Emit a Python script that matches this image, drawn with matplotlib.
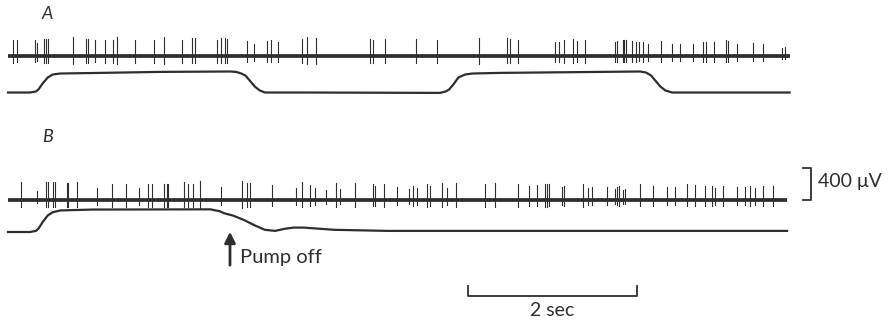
import matplotlib.pyplot as plt
import numpy as np

# Calibracion: 2 s = 169 px, 400 uV = 32 px
PX_PER_S = 84.5
UV_PER_PX = 12.5

# Tiempos de los potenciales (s) y amplitud (uV), registro A
spikes_a_t = [0.06, 0.11, 0.32, 0.34, 0.43, 0.45, 0.47, 0.77, 0.92, 0.95, 1.03, 1.15, 1.24, 1.29,
              1.50, 1.73, 1.85, 2.06, 2.18, 2.21, 2.47, 2.52, 2.57, 2.59, 2.83, 2.91, 3.07, 3.11,
              3.20, 3.48, 3.54, 3.65, 4.28, 4.32, 4.46, 4.83, 5.08, 5.57, 5.91, 5.94, 6.04, 6.47,
              6.52, 6.58, 6.69, 6.73, 6.83, 7.18, 7.21, 7.28, 7.29, 7.31, 7.39, 7.43, 7.47, 7.52,
              7.57, 7.73, 7.86, 7.95, 8.11, 8.23, 8.26, 8.36, 8.50, 8.52, 8.63, 8.82, 8.94, 9.16, 9.20]
spikes_a_uv = [200, 190, 190, 160, 210, 210, 205, 230, 210, 210, 190, 200, 195, 230,
               200, 195, 230, 200, 215, 215, 200, 215, 220, 205, 185, 150, 180, 190,
               170, 210, 230, 225, 205, 200, 205, 205, 200, 225, 215, 210, 200, 175,
               175, 200, 205, 180, 195, 170, 180, 190, 190, 190, 185, 175, 165, 170,
               145, 185, 150, 150, 140, 170, 170, 175, 190, 180, 140, 160, 150, 100, 110]

# Registro B
spikes_b_t = [0.15, 0.34, 0.45, 0.47, 0.53, 0.56, 0.70, 0.71, 0.82, 1.05, 1.23, 1.40, 1.55, 1.66,
              1.70, 1.85, 1.88, 1.89, 2.08, 2.13, 2.19, 2.27, 2.52, 2.77, 2.83, 2.86, 3.12, 3.41,
              3.48, 3.57, 3.63, 3.76, 3.88, 3.93, 4.11, 4.32, 4.34, 4.45, 4.60, 4.75, 4.79, 4.84,
              4.96, 4.99, 5.14, 5.20, 5.30, 5.65, 5.76, 6.04, 6.17, 6.26, 6.36, 6.38, 6.40, 6.56,
              6.58, 6.81, 6.86, 6.91, 7.09, 7.18, 7.21, 7.23, 7.28, 7.30, 7.48, 7.63, 7.80, 7.89,
              8.04, 8.13, 8.25, 8.33, 8.37, 8.46, 8.63, 8.72, 8.78, 8.84, 8.94, 9.05]
spikes_b_uv = [215, 110, 215, 215, 215, 215, 210, 210, 215, 140, 195, 195, 150, 195,
               195, 195, 195, 195, 215, 195, 195, 230, 160, 235, 210, 210, 180, 140,
               220, 180, 150, 120, 210, 130, 210, 190, 170, 200, 160, 130, 170, 150,
               200, 175, 210, 140, 210, 200, 210, 200, 170, 185, 200, 200, 190, 155,
               170, 200, 150, 160, 160, 130, 160, 170, 120, 130, 190, 170, 160, 160,
               190, 185, 170, 170, 150, 170, 160, 160, 170, 150, 170, 170]

# Trazo lento (bomba), nivel relativo 0 = reposo, 1 = insuflado
slow_a_t = [0.00, 0.26, 0.33, 0.36, 0.41, 0.47, 0.53, 0.62, 1.09, 1.80, 2.63, 2.70, 2.76, 2.81,
            2.86, 2.92, 2.98, 3.04, 3.46, 5.11, 5.18, 5.22, 5.27, 5.33, 5.41, 5.50, 5.82, 7.48,
            7.55, 7.61, 7.66, 7.72, 7.78, 7.86, 9.25]
slow_a = [0.0, 0.0, 0.05, 0.15, 0.45, 0.75, 0.9, 0.95, 0.98, 1.03, 1.05, 1.03, 0.95, 0.85,
          0.6, 0.3, 0.1, 0.0, 0.0, -0.02, 0.05, 0.15, 0.4, 0.75, 0.9, 0.95, 0.98, 1.05,
          1.0, 0.85, 0.6, 0.3, 0.1, 0.0, 0.0]

slow_b_t = [0.00, 0.26, 0.33, 0.36, 0.41, 0.47, 0.53, 0.62, 1.00, 2.40, 2.43, 2.50, 2.56, 2.66,
            2.79, 2.92, 3.04, 3.16, 3.28, 3.38, 3.50, 3.86, 4.50, 9.22]
slow_b = [0.0, 0.0, 0.05, 0.15, 0.45, 0.75, 0.9, 0.98, 1.02, 1.03, 1.0, 0.95, 0.85, 0.75,
          0.55, 0.3, 0.1, 0.05, 0.15, 0.2, 0.2, 0.1, 0.05, 0.05]

ink = '#2e2e2e'

fig = plt.figure(figsize=(8.91, 3.22), dpi=100)
ax = fig.add_axes([0, 0, 1, 1])
ax.set_xlim(-8 / PX_PER_S, (891 - 8) / PX_PER_S)
ax.set_ylim(-322 * UV_PER_PX, 0)
ax.axis('off')


def px(p):
    # posicion horizontal en la hoja (px) pasada a segundos
    return (p - 8) / PX_PER_S


def py(p):
    # posicion vertical en la hoja (px desde arriba) pasada a uV
    return -p * UV_PER_PX


def draw_trace(spk_t, spk_uv, base, t_end):
    ax.plot([0, t_end], [base, base], color=ink, lw=2.7, solid_capstyle='butt')
    for t, a in zip(spk_t, spk_uv):
        ax.plot([t, t], [base - 0.45 * a, base + a], color=ink, lw=0.8)


base_a = py(55.5)
base_b = py(199.5)
draw_trace(spikes_a_t, spikes_a_uv, base_a, px(790))
draw_trace(spikes_b_t, spikes_b_uv, base_b, px(787))

# Trazos lentos
span = 20 * UV_PER_PX
ax.plot(slow_a_t, py(92.5) + np.array(slow_a) * span, color=ink, lw=1.6)
span_b = 22 * UV_PER_PX
ax.plot(slow_b_t, py(232) + np.array(slow_b) * span_b, color=ink, lw=1.6)

# Etiquetas
ax.text(px(42), py(14), 'A', fontsize=13, style='italic', family='Lato', color=ink,
        va='center', ha='left')
ax.text(px(42), py(137), 'B', fontsize=13, style='italic', family='Lato', color=ink,
        va='center', ha='left')

# Flecha "Pump off"
ax.annotate('', xy=(px(230), py(229)), xytext=(px(230), py(268)),
            arrowprops=dict(arrowstyle='-|>', color=ink, lw=2, mutation_scale=16))
ax.text(px(240), py(257), 'Pump off', fontsize=14.5, family='Lato', color=ink,
        va='center', ha='left')

# Barra de tiempo 2 s
t0 = px(468)
ax.plot([t0, t0, t0 + 2, t0 + 2], [py(286), py(296), py(296), py(286)], color=ink, lw=1.3)
ax.text(t0 + 1, py(311), '2 sec', fontsize=14, family='Lato', color=ink, va='center', ha='center')

# Barra de voltaje 400 uV
tx = px(811)
ax.plot([px(803), tx, tx, px(803)], [py(200), py(200), py(200) + 400, py(200) + 400],
        color=ink, lw=1.3)
ax.text(px(818), py(182), '400 \u03bcV', fontsize=14, family='Lato', color=ink,
        va='center', ha='left')

fig.savefig('out.png', dpi=100)
